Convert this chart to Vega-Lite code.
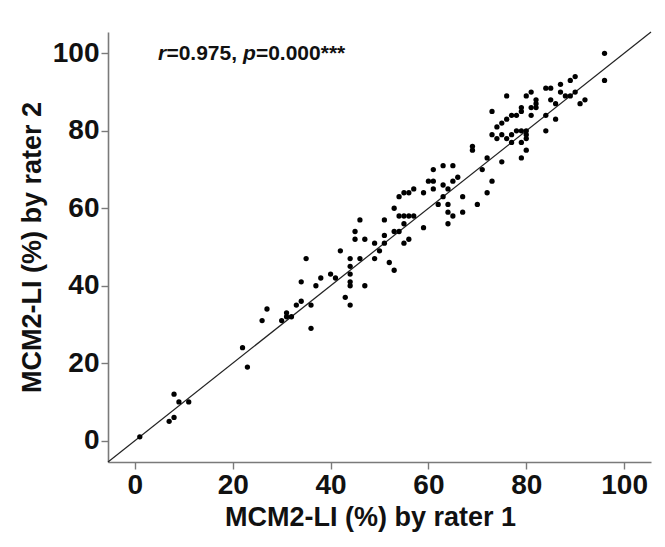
{
  "$schema": "https://vega.github.io/schema/vega-lite/v6.json",
  "width": 543,
  "height": 430,
  "autosize": {"type": "none"},
  "padding": {"left": 108, "top": 32, "right": 14, "bottom": 85},
  "background": "white",
  "config": {
    "view": {"stroke": null},
    "font": "Liberation Sans",
    "axis": {
      "grid": false,
      "domainColor": "#7a7a7a",
      "domainWidth": 1.6,
      "tickColor": "#7a7a7a",
      "tickWidth": 1.4,
      "tickSize": 7,
      "labelFont": "Liberation Sans",
      "labelFontWeight": "bold",
      "labelFontSize": 28,
      "labelColor": "#111111",
      "titleFont": "Liberation Sans",
      "titleFontWeight": "bold",
      "titleFontSize": 27,
      "titleColor": "#111111"
    }
  },
  "datasets": {
    "points": [
      {"r1": 1, "r2": 1}, {"r1": 7, "r2": 5}, {"r1": 8, "r2": 6}, {"r1": 8, "r2": 12}, {"r1": 9, "r2": 10}, {"r1": 11, "r2": 10},
      {"r1": 22, "r2": 24}, {"r1": 23, "r2": 19}, {"r1": 26, "r2": 31}, {"r1": 27, "r2": 34}, {"r1": 30, "r2": 31}, {"r1": 31, "r2": 33},
      {"r1": 31, "r2": 32}, {"r1": 32, "r2": 32}, {"r1": 33, "r2": 35}, {"r1": 34, "r2": 36}, {"r1": 34, "r2": 41}, {"r1": 35, "r2": 47},
      {"r1": 36, "r2": 35}, {"r1": 36, "r2": 29}, {"r1": 37, "r2": 40}, {"r1": 38, "r2": 42},
      {"r1": 40, "r2": 43}, {"r1": 41, "r2": 42}, {"r1": 42, "r2": 49}, {"r1": 43, "r2": 37}, {"r1": 44, "r2": 35}, {"r1": 44, "r2": 40},
      {"r1": 44, "r2": 41}, {"r1": 44, "r2": 43}, {"r1": 44, "r2": 45}, {"r1": 44, "r2": 47}, {"r1": 45, "r2": 52}, {"r1": 45, "r2": 54},
      {"r1": 46, "r2": 57}, {"r1": 46, "r2": 47}, {"r1": 47, "r2": 52}, {"r1": 47, "r2": 40}, {"r1": 49, "r2": 51}, {"r1": 49, "r2": 47},
      {"r1": 50, "r2": 49}, {"r1": 51, "r2": 57}, {"r1": 51, "r2": 53}, {"r1": 51, "r2": 51}, {"r1": 52, "r2": 46}, {"r1": 53, "r2": 44},
      {"r1": 53, "r2": 60}, {"r1": 53, "r2": 54}, {"r1": 54, "r2": 54}, {"r1": 54, "r2": 63}, {"r1": 55, "r2": 64}, {"r1": 56, "r2": 64},
      {"r1": 57, "r2": 65}, {"r1": 54, "r2": 58}, {"r1": 55, "r2": 58}, {"r1": 56, "r2": 58}, {"r1": 57, "r2": 58}, {"r1": 55, "r2": 56},
      {"r1": 55, "r2": 51}, {"r1": 56, "r2": 52}, {"r1": 59, "r2": 55}, {"r1": 59, "r2": 64},
      {"r1": 60, "r2": 67}, {"r1": 61, "r2": 67}, {"r1": 61, "r2": 70}, {"r1": 61, "r2": 65}, {"r1": 62, "r2": 61}, {"r1": 63, "r2": 71},
      {"r1": 63, "r2": 66}, {"r1": 63, "r2": 63}, {"r1": 64, "r2": 65}, {"r1": 64, "r2": 61}, {"r1": 64, "r2": 59}, {"r1": 64, "r2": 56},
      {"r1": 65, "r2": 71}, {"r1": 65, "r2": 67}, {"r1": 65, "r2": 58}, {"r1": 66, "r2": 68}, {"r1": 67, "r2": 63}, {"r1": 67, "r2": 59},
      {"r1": 69, "r2": 76}, {"r1": 69, "r2": 75},
      {"r1": 70, "r2": 61}, {"r1": 71, "r2": 70}, {"r1": 72, "r2": 73}, {"r1": 72, "r2": 64}, {"r1": 73, "r2": 67},
      {"r1": 73, "r2": 85}, {"r1": 73, "r2": 79}, {"r1": 74, "r2": 81}, {"r1": 74, "r2": 78}, {"r1": 75, "r2": 82}, {"r1": 75, "r2": 79},
      {"r1": 75, "r2": 72}, {"r1": 76, "r2": 89}, {"r1": 76, "r2": 83}, {"r1": 76, "r2": 78}, {"r1": 77, "r2": 84}, {"r1": 77, "r2": 79},
      {"r1": 77, "r2": 77}, {"r1": 78, "r2": 84}, {"r1": 78, "r2": 80}, {"r1": 79, "r2": 86}, {"r1": 79, "r2": 85}, {"r1": 79, "r2": 80},
      {"r1": 79, "r2": 77}, {"r1": 79, "r2": 73}, {"r1": 80, "r2": 89}, {"r1": 80, "r2": 80}, {"r1": 80, "r2": 79}, {"r1": 80, "r2": 78},
      {"r1": 80, "r2": 75}, {"r1": 81, "r2": 90}, {"r1": 81, "r2": 86}, {"r1": 81, "r2": 84}, {"r1": 82, "r2": 88}, {"r1": 82, "r2": 87},
      {"r1": 82, "r2": 86}, {"r1": 84, "r2": 91}, {"r1": 85, "r2": 91}, {"r1": 84, "r2": 84}, {"r1": 84, "r2": 80}, {"r1": 85, "r2": 88},
      {"r1": 86, "r2": 87}, {"r1": 86, "r2": 83}, {"r1": 87, "r2": 92}, {"r1": 87, "r2": 90}, {"r1": 88, "r2": 89}, {"r1": 89, "r2": 89},
      {"r1": 89, "r2": 93}, {"r1": 90, "r2": 94}, {"r1": 90, "r2": 90}, {"r1": 91, "r2": 87}, {"r1": 92, "r2": 88}, {"r1": 96, "r2": 100},
      {"r1": 96, "r2": 93}
    ],
    "identity": [{"r1": -5.5, "r2": -5.5}, {"r1": 105.5, "r2": 105.5}],
    "note": [{"r1": 4.7, "r2": 99.8, "s1": "r", "s2": "=0.975, ", "s3": "p", "s4": "=0.000***"}]
  },
  "encoding": {
    "x": {
      "field": "r1", "type": "quantitative",
      "scale": {"domain": [-5.5, 105.5], "nice": false, "zero": false},
      "axis": {"values": [0, 20, 40, 60, 80, 100], "title": "MCM2-LI (%) by rater 1", "labelPadding": 2, "titlePadding": 5, "titleX": 262}
    },
    "y": {
      "field": "r2", "type": "quantitative",
      "scale": {"domain": [-5.5, 105.5], "nice": false, "zero": false},
      "axis": {"values": [0, 20, 40, 60, 80, 100], "title": "MCM2-LI (%) by rater 2", "labelPadding": 2, "titlePadding": 6}
    }
  },
  "layer": [
    {
      "data": {"name": "identity"},
      "mark": {"type": "line", "color": "#222222", "strokeWidth": 1.2},
      "encoding": {}
    },
    {
      "data": {"name": "points"},
      "mark": {"type": "circle", "color": "#000000", "opacity": 1, "size": 28}
    },
    {
      "data": {"name": "note"},
      "mark": {"type": "text", "align": "left", "baseline": "middle", "fontSize": 21, "fontWeight": "bold", "fontStyle": "italic", "color": "#111111", "dx": 0},
      "encoding": {"text": {"field": "s1"}}
    },
    {
      "data": {"name": "note"},
      "mark": {"type": "text", "align": "left", "baseline": "middle", "fontSize": 21, "fontWeight": "bold", "color": "#111111", "dx": 8.5},
      "encoding": {"text": {"field": "s2"}}
    },
    {
      "data": {"name": "note"},
      "mark": {"type": "text", "align": "left", "baseline": "middle", "fontSize": 21, "fontWeight": "bold", "fontStyle": "italic", "color": "#111111", "dx": 85},
      "encoding": {"text": {"field": "s3"}}
    },
    {
      "data": {"name": "note"},
      "mark": {"type": "text", "align": "left", "baseline": "middle", "fontSize": 21, "fontWeight": "bold", "color": "#111111", "dx": 98},
      "encoding": {"text": {"field": "s4"}}
    }
  ]
}
